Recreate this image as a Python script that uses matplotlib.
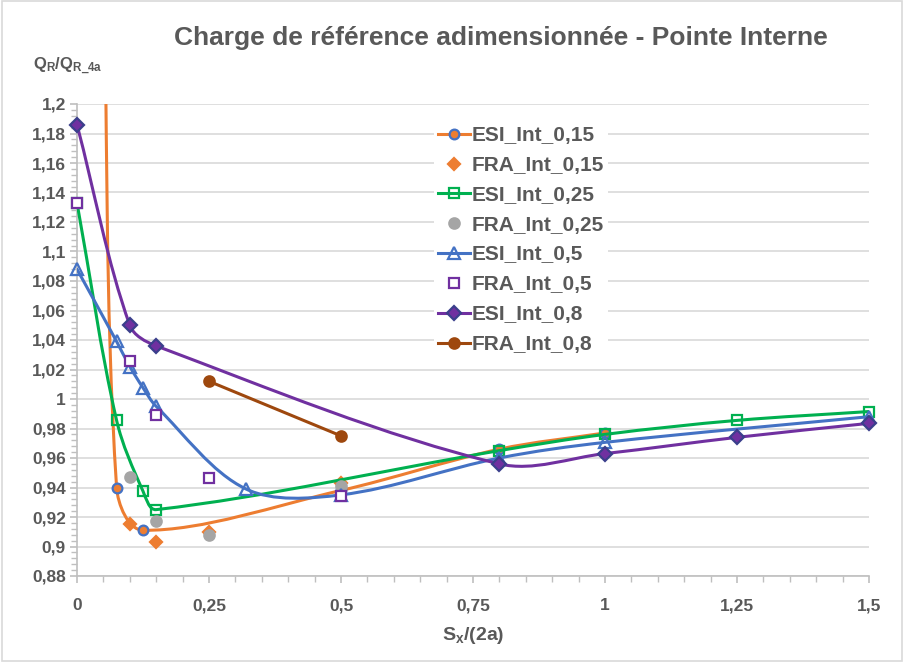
import math
import matplotlib
matplotlib.use('Agg')
import matplotlib.pyplot as plt
from matplotlib.path import Path
from matplotlib.patches import PathPatch, Rectangle
from matplotlib.lines import Line2D
from matplotlib.ticker import MultipleLocator, FuncFormatter

# ---- DATA ---- #
esi_015_x = [0.05, 0.075, 0.125, 0.5, 0.8, 1.0]
esi_015_y = [1.32, 0.940, 0.911, 0.938, 0.966, 0.977]
fra_015_x = [0.1, 0.15, 0.25, 0.5]
fra_015_y = [0.915, 0.903, 0.910, 0.943]
esi_025_x = [0, 0.075, 0.125, 0.15, 0.8, 1.0, 1.25, 1.5]
esi_025_y = [1.133, 0.9855, 0.9375, 0.925, 0.965, 0.976, 0.9855, 0.9915]
fra_025_x = [0.1, 0.15, 0.25, 0.5]
fra_025_y = [0.947, 0.9174, 0.908, 0.941]
esi_05_x = [0, 0.075, 0.1, 0.125, 0.15, 0.32, 0.5, 0.8, 1.0, 1.5]
esi_05_y = [1.088, 1.039, 1.022, 1.0076, 0.995, 0.939, 0.935, 0.960, 0.9706, 0.988]
fra_05_x = [0, 0.1, 0.15, 0.25, 0.5]
fra_05_y = [1.133, 1.0257, 0.989, 0.9467, 0.934]
esi_08_x = [0, 0.1, 0.15, 0.8, 1.0, 1.25, 1.5]
esi_08_y = [1.186, 1.05, 1.036, 0.956, 0.963, 0.974, 0.9835]
fra_08_x = [0.25, 0.5]
fra_08_y = [1.012, 0.975]

ORANGE = '#ED7D31'
GREEN = '#00B050'
GREY = '#A5A5A5'
BLUE = '#4472C4'
PURPLE = '#7030A0'
BROWN = '#9E480E'
TXT = '#595959'
FONT = 'Liberation Sans'

XMIN, XMAX, YMIN, YMAX = 0, 1.5, 0.88, 1.2


def smooth_path(xs, ys, sx, sy):
    # Excel-like smoothed line: Bezier, tangents scaled by segment lengths
    # (computed in pixel space so that short segments don't loop)
    pts = [(x * sx, y * sy) for x, y in zip(xs, ys)]
    n = len(pts)

    def dist(a, b):
        return math.hypot(b[0] - a[0], b[1] - a[1])

    d = [dist(pts[i], pts[i + 1]) for i in range(n - 1)]
    verts = [pts[0]]
    codes = [Path.MOVETO]
    for i in range(n - 1):
        p1 = pts[i]
        p2 = pts[i + 1]
        if i == 0:
            c1 = (p1[0] + (p2[0] - p1[0]) / 3, p1[1] + (p2[1] - p1[1]) / 3)
        else:
            p0 = pts[i - 1]
            k = d[i] / (d[i - 1] + d[i]) / 3
            c1 = (p1[0] + (p2[0] - p0[0]) * k, p1[1] + (p2[1] - p0[1]) * k)
        if i + 2 >= n:
            c2 = (p2[0] - (p2[0] - p1[0]) / 3, p2[1] - (p2[1] - p1[1]) / 3)
        else:
            p3 = pts[i + 2]
            k = d[i] / (d[i] + d[i + 1]) / 3
            c2 = (p2[0] - (p3[0] - p1[0]) * k, p2[1] - (p3[1] - p1[1]) * k)
        verts += [c1, c2, p2]
        codes += [Path.CURVE4] * 3
    verts = [(vx / sx, vy / sy) for vx, vy in verts]
    return Path(verts, codes)


def comma(v, pos):
    s = f'{v:.2f}'.rstrip('0').rstrip('.')
    return s.replace('.', ',')


fig = plt.figure(figsize=(9.04, 6.62), dpi=100)
ax = fig.add_axes([77 / 904, 86 / 662, 792 / 904, 472 / 662])
ax.set_xlim(XMIN, XMAX)
ax.set_ylim(YMIN, YMAX)
sx = 792 / (XMAX - XMIN)
sy = 472 / (YMAX - YMIN)

# ---- SERIES ---- #
series = [
    # label, x, y, color, marker, ms, mfc, mec, line
    ('ESI_Int_0,15', esi_015_x, esi_015_y, ORANGE, 'o', 7, ORANGE, BLUE, True),
    ('FRA_Int_0,15', fra_015_x, fra_015_y, ORANGE, 'D', 6.5, ORANGE, ORANGE, False),
    ('ESI_Int_0,25', esi_025_x, esi_025_y, GREEN, 's', 7.5, 'none', GREEN, True),
    ('FRA_Int_0,25', fra_025_x, fra_025_y, GREY, 'o', 7.5, GREY, GREY, False),
    ('ESI_Int_0,5', esi_05_x, esi_05_y, BLUE, '^', 8.5, 'none', BLUE, True),
    ('FRA_Int_0,5', fra_05_x, fra_05_y, PURPLE, 's', 7.5, 'white', PURPLE, False),
    ('ESI_Int_0,8', esi_08_x, esi_08_y, PURPLE, 'D', 7, PURPLE, '#3B3F8C', True),
    ('FRA_Int_0,8', fra_08_x, fra_08_y, BROWN, 'o', 7.5, BROWN, BROWN, True),
]

handles = []
for i, (lbl, xs, ys, col, mk, ms, mfc, mec, line) in enumerate(series):
    z = 3 + i * 0.1
    if line:
        ax.add_patch(PathPatch(smooth_path(xs, ys, sx, sy), facecolor='none',
                               edgecolor=col, lw=2.2, zorder=z,
                               capstyle='round', joinstyle='round'))
    ax.plot(xs, ys, linestyle='none', marker=mk, ms=ms, mfc=mfc, mec=mec,
            mew=1.6, zorder=z + 0.05, clip_on=False)
    handles.append(Line2D([], [], color=col, lw=2.2 if line else 0,
                          marker=mk, ms=ms, mfc=mfc, mec=mec, mew=1.6))

# ---- AXIS ---- #
ax.yaxis.set_major_locator(MultipleLocator(0.02))
ax.yaxis.set_minor_locator(MultipleLocator(0.004))
ax.xaxis.set_major_locator(MultipleLocator(0.25))
ax.xaxis.set_minor_locator(MultipleLocator(0.05))
ax.yaxis.set_major_formatter(FuncFormatter(comma))
ax.xaxis.set_major_formatter(FuncFormatter(comma))
ax.grid(axis='y', which='major', color='#D9D9D9', lw=1.2, zorder=0)
ax.set_axisbelow(True)
for sp in ['top', 'right']:
    ax.spines[sp].set_visible(False)
for sp in ['left', 'bottom']:
    ax.spines[sp].set_color('#BFBFBF')
    ax.spines[sp].set_linewidth(1.2)
ax.tick_params(which='both', colors='#BFBFBF', direction='out')
ax.tick_params(which='major', length=5, width=1.2)
ax.tick_params(which='minor', length=4, width=1)
ax.tick_params(axis='y', pad=3)
ax.tick_params(axis='x', pad=11)
for t in ax.get_xticklabels() + ax.get_yticklabels():
    t.set_color(TXT)
    t.set_fontweight('bold')
    t.set_family(FONT)
    t.set_fontsize(12.5)

# ---- LABELS ---- #
plt.rcParams['mathtext.fontset'] = 'custom'
plt.rcParams['mathtext.rm'] = 'Liberation Sans:bold'
plt.rcParams['mathtext.it'] = 'Liberation Sans:bold'
plt.rcParams['mathtext.bf'] = 'Liberation Sans:bold'
fig.text(501 / 904, 1 - 38 / 662, 'Charge de référence adimensionnée - Pointe Interne',
         ha='center', va='center', fontsize=19, fontweight='bold',
         color=TXT, family=FONT)
fig.text(33 / 904, 1 - 66 / 662, r'$\mathrm{Q_R/Q_{R\_4a}}$',
         ha='left', va='center', fontsize=12, color=TXT)
fig.text(473 / 904, 1 - 635 / 662, r'$\mathrm{S_x/(2a)}$',
         ha='center', va='center', fontsize=14, color=TXT)

# ---- LEGEND ---- #
leg = ax.legend(handles, [s[0] for s in series], loc='upper left',
                bbox_to_anchor=(0.451, 0.962), frameon=True, fancybox=False,
                facecolor='white', edgecolor='none', framealpha=1,
                handlelength=1.5, handletextpad=0.1, labelspacing=0.52,
                borderpad=0.2, borderaxespad=0,
                prop={'family': FONT, 'weight': 'bold', 'size': 15})
for t in leg.get_texts():
    t.set_color(TXT)
leg.set_zorder(10)

# ---- BORDER ---- #
fig.patches.append(Rectangle((0.002, 0.002), 0.996, 0.996,
                             transform=fig.transFigure, fill=False,
                             ec='#D9D9D9', lw=1.2))

fig.savefig('out.png', dpi=100)
